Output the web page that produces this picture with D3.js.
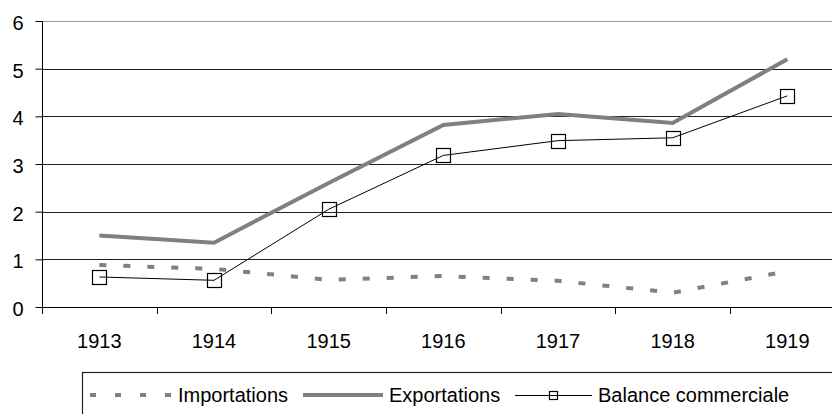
<!DOCTYPE html>
<html><head><meta charset="utf-8">
<script src="https://cdn.jsdelivr.net/npm/d3@7"></script>
<style>
html,body{margin:0;padding:0;background:#fff;overflow:hidden;}
text{font-family:"Liberation Sans",Arial,sans-serif;}
</style></head>
<body>
<svg id="chart" width="832" height="414"></svg>
<script>
const years = ["1913","1914","1915","1916","1917","1918","1919"];
const importations = [0.88, 0.8, 0.57, 0.65, 0.55, 0.3, 0.75];
const exportations = [1.5, 1.35, 2.6, 3.82, 4.05, 3.86, 5.2];
const balance = [0.63, 0.56, 2.05, 3.18, 3.49, 3.55, 4.43];
const yTicks = [0,1,2,3,4,5,6];
const seriesNames = ["Importations","Exportations","Balance commerciale"];

const svg = d3.select("#chart");
const x0 = 42, step = 114.67;
const x = d3.scaleBand().domain(years).range([x0, x0 + step*years.length]).padding(0);
const y = d3.scaleLinear().domain([0,6]).range([307,21]);
const cx = d => x(d) + x.bandwidth()/2;

// gridlines
svg.append("g").selectAll("line").data(yTicks.filter(t=>t>0)).join("line")
  .attr("x1", x0).attr("x2", 832)
  .attr("y1", d=>Math.round(y(d))+0.5).attr("y2", d=>Math.round(y(d))+0.5)
  .attr("stroke", d=> d===6 ? "#9a9a9a" : "#222").attr("stroke-width",1.2);

// y axis
const yAxis = d3.axisLeft(y).tickValues(yTicks).tickSize(7).tickPadding(12).tickFormat(d3.format("d"));
const gy = svg.append("g").attr("transform", `translate(${x0+0.5},0)`).call(yAxis);
gy.select(".domain").attr("stroke","#000").attr("d", `M0,${y(6)}V${y(0)+5}`);
gy.selectAll(".tick line").attr("stroke","#000");
gy.selectAll(".tick text").attr("font-size",20).attr("fill","#000").attr("dy","0.42em")
  .attr("font-family","'Liberation Sans',Arial,sans-serif");

// x axis
svg.append("line").attr("x1", x0).attr("x2", 832).attr("y1", Math.round(y(0))+0.5).attr("y2", Math.round(y(0))+0.5)
  .attr("stroke","#000").attr("stroke-width",1.2);
const bounds = years.map(d=>x(d)).concat([x(years[years.length-1])+x.bandwidth()]);
svg.append("g").selectAll("line").data(bounds).join("line")
  .attr("x1", d=>Math.round(d)+0.5).attr("x2", d=>Math.round(d)+0.5)
  .attr("y1", y(0)).attr("y2", y(0)+7).attr("stroke","#000");
svg.append("g").selectAll("text").data(years).join("text")
  .attr("x", d=>cx(d)).attr("y", 348).attr("text-anchor","middle")
  .attr("font-size",20).attr("fill","#000").text(d=>d);

const line = d3.line().x((d,i)=>cx(years[i])).y(d=>y(d));

// importations
svg.append("path").datum(importations).attr("d", line).attr("fill","none")
  .attr("stroke","#808080").attr("stroke-width",4).attr("stroke-dasharray","7,17");
// exportations
svg.append("path").datum(exportations).attr("d", line).attr("fill","none")
  .attr("stroke","#808080").attr("stroke-width",4);
// balance
svg.append("path").datum(balance).attr("d", line).attr("fill","none")
  .attr("stroke","#000").attr("stroke-width",1);
svg.append("g").selectAll("rect").data(balance).join("rect")
  .attr("x",(d,i)=>Math.round(cx(years[i])-7)+0.5).attr("y",d=>Math.round(y(d)-7)+0.5)
  .attr("width",14).attr("height",14).attr("fill","none").attr("stroke","#000").attr("stroke-width",1.2);

// legend
const lg = svg.append("g");
lg.append("rect").attr("x",82.5).attr("y",372.5).attr("width",800).attr("height",60)
  .attr("fill","#fff").attr("stroke","#222").attr("stroke-width",1.2);
const ly = 395;
lg.append("line").attr("x1",90).attr("x2",172).attr("y1",ly).attr("y2",ly)
  .attr("stroke","#808080").attr("stroke-width",4).attr("stroke-dasharray","6,19");
lg.append("text").attr("x",178).attr("y",ly+7).attr("font-size",20).attr("fill","#000").text(seriesNames[0]);
lg.append("line").attr("x1",303).attr("x2",383).attr("y1",ly).attr("y2",ly)
  .attr("stroke","#808080").attr("stroke-width",4);
lg.append("text").attr("x",389).attr("y",ly+7).attr("font-size",20).attr("fill","#000").text(seriesNames[1]);
lg.append("line").attr("x1",515).attr("x2",592).attr("y1",ly+0.5).attr("y2",ly+0.5)
  .attr("stroke","#000").attr("stroke-width",1);
lg.append("rect").attr("x",549.5).attr("y",ly-3.5).attr("width",8).attr("height",8)
  .attr("fill","none").attr("stroke","#000").attr("stroke-width",1.2);
lg.append("text").attr("x",598).attr("y",ly+7).attr("font-size",20).attr("fill","#000").text(seriesNames[2]);
</script>
</body></html>
